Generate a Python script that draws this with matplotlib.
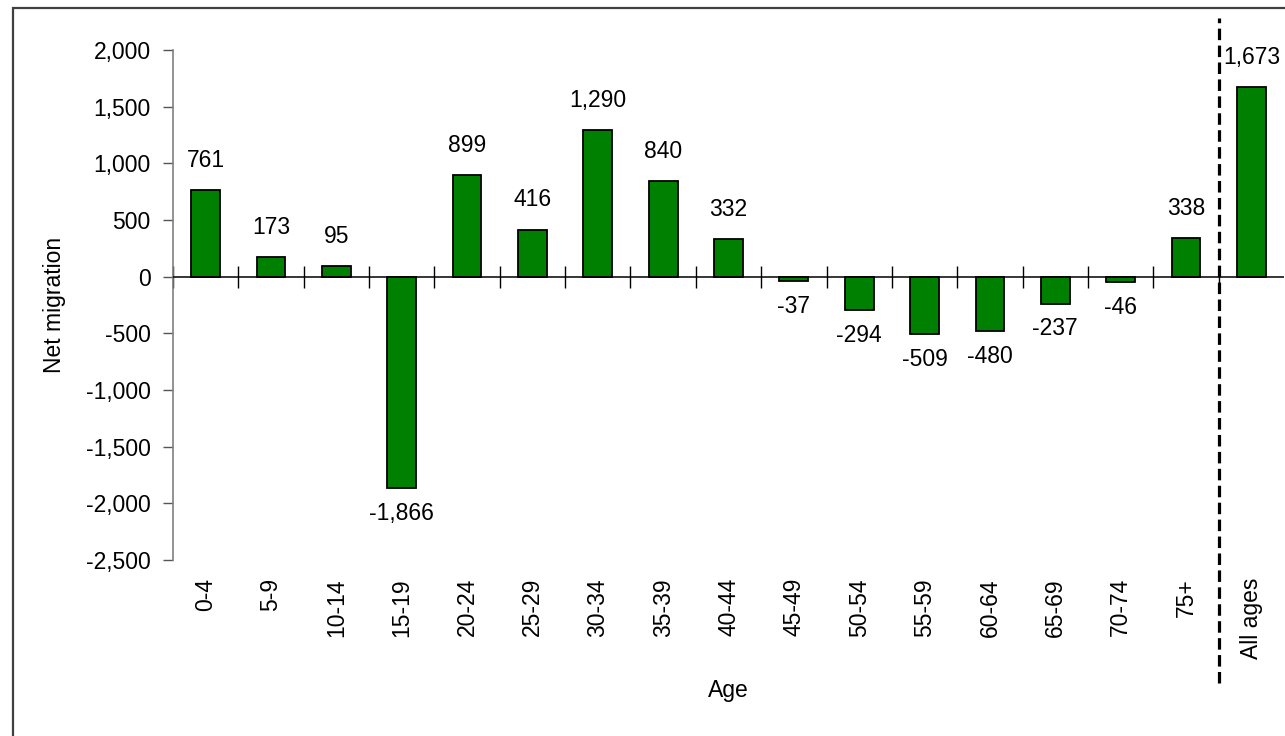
import matplotlib
matplotlib.use('Agg')
import matplotlib.pyplot as plt
from matplotlib.patches import Rectangle
from matplotlib.ticker import FuncFormatter

plt.rcParams['font.family'] = ['Liberation Sans', 'DejaVu Sans']

ages = ['0-4', '5-9', '10-14', '15-19', '20-24', '25-29', '30-34', '35-39',
        '40-44', '45-49', '50-54', '55-59', '60-64', '65-69', '70-74', '75+',
        'All ages']
net_migration = [761, 173, 95, -1866, 899, 416, 1290, 840, 332, -37, -294,
                 -509, -480, -237, -46, 338, 1673]
yticks = [-2500, -2000, -1500, -1000, -500, 0, 500, 1000, 1500, 2000]

FS = 16.5
W, H = 1285, 736
fig = plt.figure(figsize=(W / 100, H / 100), dpi=100)
ax = fig.add_axes([173 / W, 1 - 560 / H, (1284 - 173) / W, (560 - 50) / H])

x = list(range(len(ages)))
ax.bar(x, net_migration, width=0.44, color='#008000', edgecolor='black',
       linewidth=1.3, zorder=3)

for xi, v in zip(x, net_migration):
    if v >= 0:
        ax.annotate(f'{v:,}', (xi, v), xytext=(0, 13), textcoords='offset points',
                    ha='center', va='bottom', fontsize=FS)
    else:
        ax.annotate(f'{v:,}', (xi, v), xytext=(0, -10), textcoords='offset points',
                    ha='center', va='top', fontsize=FS)

ax.set_xlim(-0.5, len(ages) - 0.5)
ax.set_ylim(-2500, 2000)
ax.set_yticks(yticks)
ax.yaxis.set_major_formatter(FuncFormatter(lambda v, p: f'{int(v):,}'))
ax.tick_params(axis='y', length=7, width=1, color='#555555', labelsize=FS, pad=9)

ax.set_xticks(x)
ax.set_xticklabels(ages, rotation=90, fontsize=FS)
ax.tick_params(axis='x', length=0, pad=13)

for s in ['top', 'right', 'bottom']:
    ax.spines[s].set_visible(False)
ax.spines['left'].set_color('#808080')
ax.spines['left'].set_linewidth(1.2)

# zero line with category boundary ticks
zero_pos = 2500 / 4500
sec = ax.secondary_xaxis(zero_pos)
sec.set_xticks([i - 0.5 for i in range(len(ages))])
sec.tick_params(axis='x', direction='inout', length=16, width=1, color='black',
                labelbottom=False, labeltop=False)
sec.spines['bottom'].set_visible(False)
sec.spines['top'].set_visible(False)
ax.axhline(0, color='black', linewidth=1.1, zorder=4)

ax.set_ylabel('Net migration', fontsize=FS)
ax.yaxis.set_label_coords(-0.096, 0.5)
ax.set_xlabel('Age', fontsize=FS, labelpad=14)

# dashed separator before "All ages"
ax.axvline(len(ages) - 1.5, ymin=(560 - 683) / 510, ymax=(560 - 18) / 510,
           color='black', linewidth=2.3, linestyle=(0, (3.6, 1.7)),
           clip_on=False, zorder=5)

fig.patches.append(Rectangle((13 / W, -0.05), 1.0, 1 - 8 / H + 0.05,
                             transform=fig.transFigure, fill=False,
                             edgecolor='#404040', linewidth=1.6))

fig.savefig('out.png', dpi=100)
